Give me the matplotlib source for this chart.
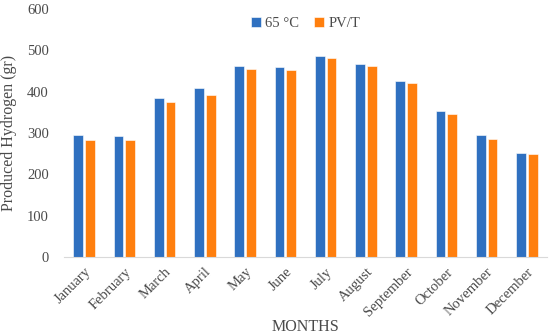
import numpy as np
import matplotlib.pyplot as plt

months = ['January', 'February', 'March', 'April', 'May', 'June', 'July',
          'August', 'September', 'October', 'November', 'December']
h2_65c = [295, 292, 385, 410, 463, 459, 487, 468, 427, 354, 294, 252]
h2_pvt = [284, 282, 374, 392, 456, 452, 482, 462, 421, 346, 285, 248]

plt.rcParams['font.family'] = ['Liberation Serif', 'DejaVu Serif']
txt = '#4a4a4a'

fig = plt.figure(figsize=(5.5, 3.34), dpi=100)
ax = fig.add_axes([64 / 550, 1 - 257 / 334, (547 - 64) / 550, (257 - 9) / 334])

x = np.arange(len(months))
w = 0.245
ax.bar(x - w / 2 - 0.025, h2_65c, w, color='#2F70C0', edgecolor='white', linewidth=0.4, label='65 °C')
ax.bar(x + w / 2 + 0.025, h2_pvt, w, color='#FF7F0E', edgecolor='white', linewidth=0.4, label='PV/T')

ax.set_xlim(-0.5, len(months) - 0.5)
ax.set_ylim(0, 600)
ax.set_yticks(range(0, 601, 100))
ax.set_xticks(x)
ax.set_xticklabels(months, rotation=45, ha='right', rotation_mode='anchor')

for s in ['top', 'right', 'left']:
    ax.spines[s].set_visible(False)
ax.spines['bottom'].set_color('#D9D9D9')
ax.tick_params(axis='both', length=0, colors=txt, labelsize=10.5)
ax.tick_params(axis='x', pad=6)
ax.tick_params(axis='y', pad=11)

ax.set_ylabel('Produced Hydrogen (gr)', color=txt, fontsize=11.5, labelpad=7)
ax.set_xlabel('MONTHS', color=txt, fontsize=11.5, labelpad=0)

leg = ax.legend(loc='upper center', bbox_to_anchor=(0.5, 1.02), ncol=2, frameon=False,
                fontsize=10.5, handlelength=0.7, handleheight=0.7, handletextpad=0.3,
                columnspacing=1.0)
for t in leg.get_texts():
    t.set_color(txt)

fig.savefig('out.png', dpi=100)
